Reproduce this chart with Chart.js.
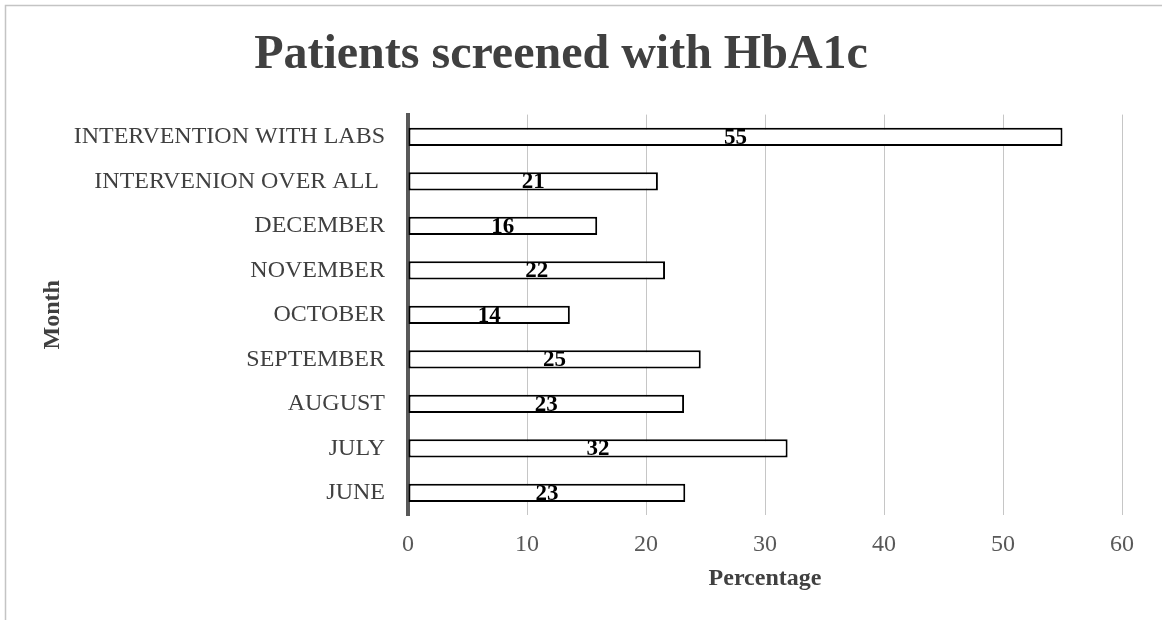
<!DOCTYPE html>
<html>
<head>
<meta charset="utf-8">
<title>Patients screened with HbA1c</title>
<script src="https://cdn.jsdelivr.net/npm/chart.js@4.4.1/dist/chart.umd.min.js"></script>
<style>
  html, body { margin: 0; padding: 0; background: #fff; }
  #wrap { width: 1162px; height: 620px; position: relative; }
</style>
</head>
<body>
<div id="wrap"><canvas id="hba1cChart"></canvas></div>
<script>
// data (top row first)
const categories = [
  'INTERVENTION WITH LABS',
  'INTERVENION OVER ALL ',
  'DECEMBER',
  'NOVEMBER',
  'OCTOBER',
  'SEPTEMBER',
  'AUGUST',
  'JULY',
  'JUNE'
];
const percentages = [55.0, 21.0, 15.9, 21.6, 13.6, 24.6, 23.2, 31.9, 23.3];
const xMin = 0, xMax = 60, xStep = 10;

const serif = '"Liberation Serif", "Times New Roman", serif';

// light frame round the chart (only top and left are visible in the crop)
const framePlugin = {
  id: 'frame',
  beforeDraw(chart) {
    const ctx = chart.ctx;
    ctx.save();
    ctx.strokeStyle = '#c4c4c4';
    ctx.lineWidth = 1.5;
    ctx.beginPath();
    ctx.moveTo(5.5, chart.height);
    ctx.lineTo(5.5, 5.5);
    ctx.lineTo(chart.width, 5.5);
    ctx.stroke();
    ctx.restore();
  }
};

// value labels in the middle of each bar
const barLabels = {
  id: 'barLabels',
  afterDatasetsDraw(chart) {
    const ctx = chart.ctx;
    const meta = chart.getDatasetMeta(0);
    ctx.save();
    ctx.font = 'bold 23px ' + serif;
    ctx.fillStyle = '#000';
    ctx.textAlign = 'center';
    ctx.textBaseline = 'middle';
    meta.data.forEach((bar, i) => {
      const v = chart.data.datasets[0].data[i];
      ctx.fillText(Math.round(v), (bar.x + bar.base) / 2, bar.y + 1);
    });
    ctx.restore();
  }
};

new Chart(document.getElementById('hba1cChart'), {
  type: 'bar',
  data: {
    labels: categories,
    datasets: [{
      data: percentages,
      backgroundColor: '#ffffff',
      borderColor: '#000000',
      borderWidth: 2,
      borderSkipped: false,
      barPercentage: 0.41,
      categoryPercentage: 1.0
    }]
  },
  options: {
    indexAxis: 'y',
    responsive: true,
    maintainAspectRatio: false,
    animation: false,
    layout: { padding: { left: 0, right: 40, top: 0, bottom: 0 } },
    plugins: {
      legend: { display: false },
      tooltip: { enabled: false },
      title: {
        display: true,
        text: 'Patients screened with HbA1c',
        color: '#404040',
        font: { family: serif, size: 48, weight: 'bold' },
        padding: { top: 27, bottom: 30 }
      }
    },
    scales: {
      x: {
        min: xMin,
        max: xMax,
        ticks: {
          stepSize: xStep,
          color: '#595959',
          padding: 15,
          font: { family: serif, size: 24 }
        },
        grid: { color: '#c6c6c6', lineWidth: 1, drawTicks: false },
        border: { display: false },
        title: {
          display: true,
          text: 'Percentage',
          color: '#404040',
          font: { family: serif, size: 24, weight: 'bold' },
          padding: { top: 0, bottom: 27 }
        },
        afterFit(scale) { scale.height = 105; }
      },
      y: {
        ticks: {
          color: '#404040',
          padding: 23,
          font: { family: serif, size: 24 }
        },
        grid: { display: false, drawTicks: false },
        border: { display: true, color: '#595959', width: 4 },
        title: {
          display: true,
          text: 'Month',
          color: '#404040',
          font: { family: serif, size: 24, weight: 'bold' },
          padding: { top: 38.6, bottom: 0 }
        },
        afterFit(scale) { scale.width = 408; }
      }
    }
  },
  plugins: [framePlugin, barLabels]
});
</script>
</body>
</html>
